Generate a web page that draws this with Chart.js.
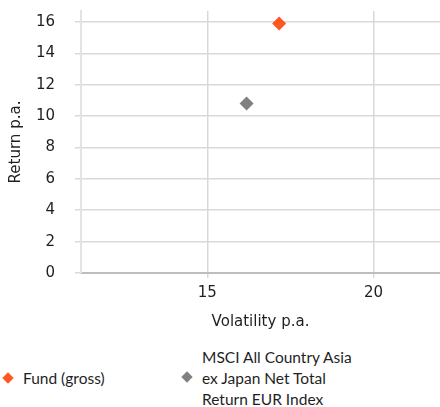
<!DOCTYPE html>
<html>
<head>
<meta charset="utf-8">
<script src="https://cdn.jsdelivr.net/npm/chart.js@4"></script>
<style>
  html, body { margin: 0; padding: 0; background: #fff; }
  #wrap { position: relative; width: 440px; height: 407px; color: #1f1f1f; }
  #chart { position: absolute; left: 0; top: 0; }
  .item { position: absolute; font-family: Lato, "Open Sans", sans-serif; font-size: 15.5px; line-height: 21px; white-space: nowrap; }
  .mark { position: absolute; width: 8px; height: 8px; transform: rotate(45deg); }
</style>
</head>
<body>
<div id="wrap">
  <canvas id="chart" width="440" height="340"></canvas>
  <div id="legend"></div>
</div>
<script>
// Risk / return figures (volatility p.a., return p.a.)
const seriesNames = ['Fund (gross)', 'MSCI All Country Asia ex Japan Net Total Return EUR Index'];
const legendLines = [['Fund (gross)'], ['MSCI All Country Asia', 'ex Japan Net Total', 'Return EUR Index']];
const volatility = [17.16, 16.18];
const returns = [15.91, 10.8];
const colors = ['#ff5722', '#808080'];
const xTicks = [15, 20];
const yTicks = [0, 2, 4, 6, 8, 10, 12, 14, 16];

const FONT = '"DejaVu Sans", sans-serif';
const TEXT = '#1f1f1f';

const datasets = seriesNames.map((name, i) => ({
  label: name,
  data: [{ x: volatility[i], y: returns[i] }],
  pointStyle: 'rectRot',
  pointRadius: 7,
  pointHoverRadius: 7,
  backgroundColor: colors[i],
  borderColor: colors[i],
  borderWidth: 0
}));

new Chart(document.getElementById('chart'), {
  type: 'scatter',
  data: { datasets },
  options: {
    responsive: false,
    animation: false,
    layout: { autoPadding: false, padding: { top: 11, right: 0, left: 0, bottom: 0 } },
    plugins: { legend: { display: false }, tooltip: { enabled: false } },
    scales: {
      x: {
        type: 'linear',
        min: 11.2,
        max: 22,
        afterBuildTicks: s => { s.ticks = xTicks.map(v => ({ value: v })); },
        afterFit: s => { s.height = 67; s.paddingLeft = 0; s.paddingRight = 0; },
        grid: { color: '#d9d9d9', lineWidth: 1.5, tickLength: 5 },
        border: { color: '#bdbdbd', width: 2 },
        ticks: { color: TEXT, font: { family: FONT, size: 15 }, padding: 6 },
        title: { display: true, text: 'Volatility p.a.', color: TEXT, font: { family: FONT, size: 15 }, padding: { top: 0, bottom: 9 } }
      },
      y: {
        type: 'linear',
        min: 0,
        max: 16.7,
        afterBuildTicks: s => { s.ticks = yTicks.map(v => ({ value: v })); },
        afterFit: s => { s.width = 81; s.paddingTop = 0; s.paddingBottom = 0; },
        grid: { color: '#d9d9d9', lineWidth: 1.5, tickLength: 6 },
        border: { color: '#e3e3e3', width: 2 },
        ticks: { color: TEXT, font: { family: FONT, size: 15 }, padding: 20 },
        title: { display: true, text: 'Return p.a.', color: TEXT, font: { family: FONT, size: 15 }, padding: { top: 7, bottom: 0 } }
      }
    }
  }
});

// Legend below the plot, one column per series
const legend = document.getElementById('legend');
const legendPos = [{ x: 23, top: 368, mx: 4, my: 374 }, { x: 202, top: 347, mx: 183, my: 373 }];
legendLines.forEach((lines, i) => {
  const p = legendPos[i];
  const m = document.createElement('div');
  m.className = 'mark';
  m.style.left = p.mx + 'px';
  m.style.top = p.my + 'px';
  m.style.background = colors[i];
  legend.appendChild(m);
  const t = document.createElement('div');
  t.className = 'item';
  t.style.left = p.x + 'px';
  t.style.top = p.top + 'px';
  t.innerHTML = lines.join('<br>');
  legend.appendChild(t);
});
</script>
</body>
</html>
